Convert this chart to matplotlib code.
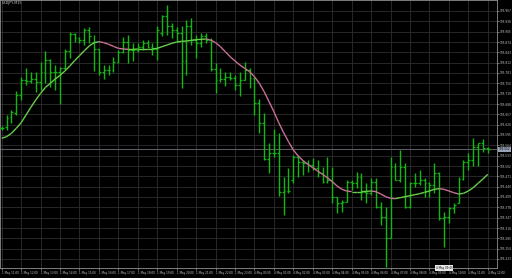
import matplotlib
matplotlib.use("Agg")
import matplotlib.pyplot as plt
from matplotlib.collections import LineCollection
import numpy as np

symbol_title = "USDJPY,M15"

highs = [105.622,105.655,105.670,105.728,105.768,105.795,105.785,105.785,105.815,105.848,
         105.822,105.805,105.800,105.852,105.903,105.900,105.890,105.915,105.920,105.895,
         105.852,105.805,105.805,105.828,105.850,105.888,105.895,105.872,105.872,105.880,
         105.880,105.870,105.922,105.955,105.985,105.932,105.920,105.922,105.940,105.945,
         105.895,105.900,105.900,105.885,105.810,105.795,105.785,105.785,105.775,105.785,
         105.815,105.795,105.770,105.702,105.660,105.570,105.612,105.600,105.468,105.497,
         105.535,105.535,105.520,105.520,105.525,105.520,105.500,105.530,105.500,105.410,
         105.400,105.460,105.460,105.485,105.480,105.450,105.465,105.465,105.395,105.380,
         105.530,105.510,105.550,105.510,105.455,105.480,105.490,105.465,105.455,105.510,
         105.485,105.365,105.380,105.390,105.470,105.520,105.540,105.585,105.572,105.582,
         105.560]
lows = [105.610,105.610,105.630,105.655,105.700,105.745,105.750,105.725,105.730,105.750,
        105.740,105.730,105.688,105.790,105.825,105.875,105.870,105.865,105.872,105.788,
        105.775,105.762,105.775,105.785,105.810,105.842,105.810,105.818,105.845,105.850,
        105.855,105.835,105.820,105.892,105.895,105.885,105.875,105.735,105.775,105.865,
        105.825,105.860,105.872,105.788,105.720,105.755,105.742,105.760,105.730,105.712,
        105.760,105.735,105.655,105.600,105.520,105.482,105.530,105.412,105.355,105.422,
        105.452,105.470,105.475,105.485,105.490,105.470,105.450,105.450,105.390,105.360,
        105.365,105.395,105.430,105.435,105.400,105.390,105.415,105.375,105.325,105.200,
        105.285,105.460,105.455,105.375,105.375,105.440,105.445,105.410,105.410,105.420,
        105.340,105.260,105.330,105.360,105.390,105.460,105.490,105.502,105.502,105.545,
        105.540]
opens = [105.617,105.620,105.650,105.660,105.715,105.760,105.757,105.762,105.755,105.785,
         105.820,105.785,105.785,105.795,105.848,105.898,105.885,105.880,105.910,105.872,
         105.852,105.785,105.790,105.790,105.815,105.845,105.875,105.850,105.850,105.860,
         105.872,105.860,105.852,105.900,105.952,105.922,105.910,105.900,105.818,105.922,
         105.880,105.870,105.892,105.880,105.792,105.760,105.762,105.768,105.765,105.745,
         105.760,105.790,105.765,105.690,105.630,105.522,105.540,105.542,105.425,105.428,
         105.460,105.530,105.515,105.510,105.505,105.495,105.480,105.455,105.460,105.410,
         105.390,105.395,105.455,105.450,105.470,105.425,105.420,105.455,105.380,105.350,
         105.285,105.500,105.460,105.500,105.380,105.450,105.450,105.460,105.450,105.445,
         105.480,105.345,105.350,105.375,105.390,105.462,105.515,105.520,105.560,105.570,
         105.555]
closes = [105.617,105.645,105.665,105.715,105.760,105.757,105.762,105.755,105.785,105.820,
          105.785,105.785,105.795,105.848,105.898,105.885,105.880,105.910,105.892,105.852,
          105.785,105.790,105.790,105.815,105.845,105.875,105.850,105.850,105.860,105.872,
          105.860,105.852,105.910,105.952,105.922,105.910,105.900,105.818,105.922,105.880,
          105.870,105.892,105.880,105.792,105.760,105.762,105.768,105.765,105.745,105.760,
          105.790,105.765,105.690,105.630,105.522,105.540,105.542,105.425,105.428,105.427,
          105.530,105.515,105.510,105.505,105.495,105.480,105.455,105.460,105.410,105.390,
          105.395,105.455,105.450,105.470,105.425,105.420,105.455,105.380,105.350,105.285,
          105.500,105.460,105.500,105.380,105.450,105.450,105.460,105.450,105.445,105.480,
          105.345,105.350,105.375,105.385,105.462,105.515,105.520,105.560,105.570,105.555,
          105.552]
ma_values = [105.585,105.590,105.600,105.615,105.632,105.655,105.678,105.700,105.720,105.738,
             105.750,105.763,105.774,105.787,105.802,105.818,105.833,105.848,105.862,105.872,
             105.875,105.872,105.867,105.861,105.855,105.853,105.852,105.852,105.853,105.853,
             105.853,105.853,105.855,105.860,105.865,105.870,105.874,105.876,105.877,105.879,
             105.881,105.882,105.883,105.880,105.872,105.860,105.845,105.830,105.817,105.805,
             105.795,105.785,105.770,105.750,105.725,105.695,105.665,105.632,105.602,105.575,
             105.550,105.532,105.518,105.507,105.497,105.487,105.477,105.467,105.455,105.442,
             105.432,105.427,105.425,105.425,105.425,105.426,105.427,105.425,105.418,105.410,
             105.405,105.404,105.407,105.410,105.413,105.416,105.419,105.423,105.427,105.432,
             105.434,105.432,105.427,105.422,105.418,105.420,105.427,105.437,105.450,105.463,
             105.477]

price_ticks = [105.967,105.936,105.905,105.874,105.843,105.812,105.781,105.750,105.719,
               105.688,105.657,105.626,105.595,105.564,105.533,105.502,105.471,105.440,
               105.409,105.378,105.347,105.316,105.285,105.254,105.223]
time_labels = ["1 May 11:00","1 May 12:00","1 May 13:00","1 May 14:00","1 May 15:00",
               "1 May 16:00","1 May 17:00","1 May 18:00","1 May 19:00","1 May 20:00",
               "1 May 21:00","1 May 22:00","1 May 23:00","4 May 00:00","4 May 01:00",
               "4 May 02:00","4 May 03:00","4 May 04:00","4 May 05:00","4 May 06:00",
               "4 May 07:00","4 May 08:00","4 May 09:00","4 May 10:00","4 May 11:00",
               "4 May 12:00"]
current_price = 105.552
marker_bar = 91
marker_label = "4 May 09:45"

W, H = 512, 278
fig = plt.figure(figsize=(W/100, H/100), dpi=100, facecolor="black")
ax = fig.add_axes([0.0, 10/H, 497/W, 268/H])
ax.set_facecolor("black")

n = len(closes)
x = np.arange(n)
bar_col = "#10b810"
ax.vlines(x, lows, highs, color=bar_col, lw=1.0, zorder=3)
ax.hlines(opens, x - 0.38, x, color=bar_col, lw=0.9, zorder=3)
ax.hlines(closes, x, x + 0.38, color=bar_col, lw=0.9, zorder=3)

ma = np.array(ma_values)
pts = np.column_stack([x, ma])
segs = np.stack([pts[:-1], pts[1:]], axis=1)
cols = ["#66d04a" if ma[i+1] >= ma[i] else "#c87098" for i in range(n-1)]
ax.add_collection(LineCollection(segs, colors=cols, lw=1.0, zorder=4))

ax.set_xlim(-0.35, 101.9)
ax.set_ylim(105.196, 106.000)

ax.axhline(current_price, color="#5a5a64", lw=0.8, zorder=2)

ax.set_yticks(price_ticks)
ax.set_yticklabels([f"{v:.3f}" for v in price_ticks])
ax.set_xticks(np.arange(0, n + 3, 4))
ax.set_xticklabels(time_labels)
ax.grid(True, color="#2e2e2e", lw=0.6, ls="-", zorder=0)
ax.yaxis.tick_right()
ax.tick_params(axis="y", colors="#c8c8c8", labelsize=2.1, length=1.2, width=0.4, pad=0.6)
ax.tick_params(axis="x", colors="#c8c8c8", labelsize=2.0, length=1.5, width=0.4, pad=0.8)
for lbl in ax.get_xticklabels():
    lbl.set_horizontalalignment("left")
for s in ax.spines.values():
    s.set_color("#909090")
    s.set_linewidth(0.6)

ax.text(0.004, 0.995, symbol_title, transform=ax.transAxes, color="#c8c8c8",
        fontsize=2.4, va="top", ha="left")
ax.text(1.004, current_price, f"{current_price:.3f}", transform=ax.get_yaxis_transform(),
        color="black", fontsize=2.1, va="center", ha="left",
        bbox=dict(boxstyle="square,pad=0.2", fc="#9aa4b8", ec="none"), zorder=6, clip_on=False)
ax.text(marker_bar, 0.0, marker_label, transform=ax.get_xaxis_transform(),
        color="black", fontsize=2.0, va="center", ha="center",
        bbox=dict(boxstyle="square,pad=0.2", fc="#e8e8e8", ec="none"), zorder=6, clip_on=False)

fig.savefig("out.png", dpi=100, facecolor="black")
